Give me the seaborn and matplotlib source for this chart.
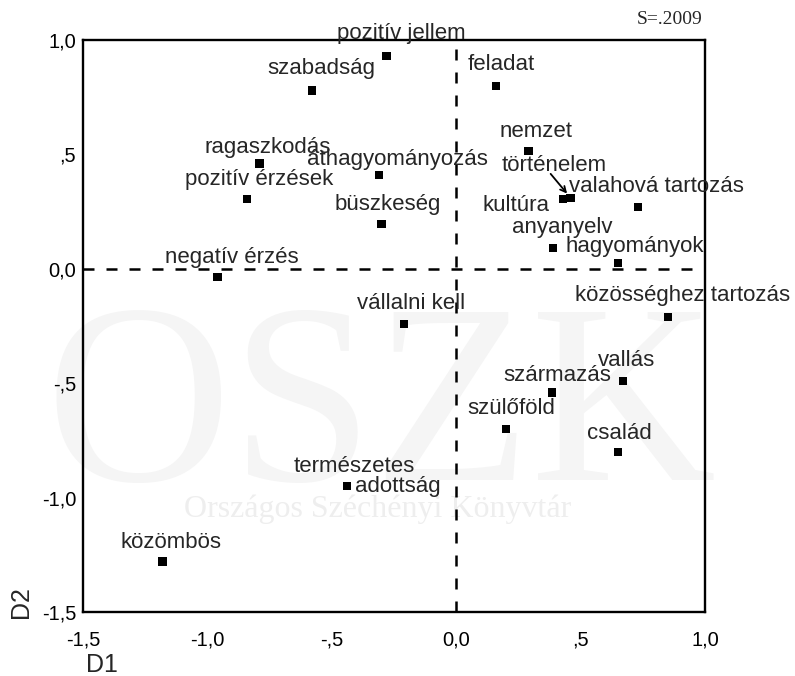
import numpy as np
import pandas as pd
import matplotlib
matplotlib.use("Agg")
import matplotlib.pyplot as plt
import seaborn as sns

# DATI (coordinate D1 / D2)
fogalmak = ["pozitív jellem", "szabadság", "ragaszkodás", "pozitív érzések",
            "áthagyományozás", "büszkeség", "negatív érzés", "feladat", "nemzet",
            "kultúra", "történelem", "valahová tartozás", "anyanyelv", "hagyományok",
            "közösséghez tartozás", "vállalni kell", "vallás", "származás",
            "szülőföld", "család", "természetes adottság", "közömbös"]
d1 = [-0.28, -0.58, -0.79, -0.84, -0.31, -0.30, -0.96, 0.16, 0.29,
      0.43, 0.46, 0.73, 0.39, 0.65, 0.85, -0.21, 0.67, 0.385,
      0.20, 0.65, -0.44, -1.18]
d2 = [0.93, 0.78, 0.46, 0.305, 0.41, 0.196, -0.036, 0.80, 0.515,
      0.305, 0.31, 0.27, 0.09, 0.025, -0.21, -0.24, -0.49, -0.54,
      -0.70, -0.80, -0.95, -1.28]
tick_vals = [-1.5, -1.0, -0.5, 0.0, 0.5, 1.0]
tick_labels = ["-1,5", "-1,0", "-,5", "0,0", ",5", "1,0"]

df = pd.DataFrame({"D1": d1, "D2": d2, "fogalom": fogalmak})

# spostamento delle etichette (pixel) e allineamento
offset = {
    "pozitív jellem": (15, 17, "center"), "szabadság": (9, 16, "center"),
    "ragaszkodás": (8, 11, "center"), "pozitív érzések": (12, 14, "center"),
    "áthagyományozás": (18, 10, "center"), "büszkeség": (6, 14, "center"),
    "negatív érzés": (14, 14, "center"), "feladat": (5, 16, "center"),
    "nemzet": (8, 14, "center"), "kultúra": (-14, -6, "right"),
    "történelem": (-16, 27, "center"), "valahová tartozás": (19, 15, "center"),
    "anyanyelv": (9, 15, "center"), "hagyományok": (17, 11, "center"),
    "közösséghez tartozás": (15, 16, "center"), "vállalni kell": (7, 15, "center"),
    "vallás": (4, 15, "center"), "származás": (5, 11, "center"),
    "szülőföld": (5, 15, "center"), "család": (1, 13, "center"),
    "közömbös": (8, 14, "center"),
}

sns.set_style("white")
plt.rcParams['font.family'] = ['Liberation Sans', 'DejaVu Sans']

fig = plt.figure(figsize=(7.95, 6.76), dpi=100)
ax = fig.add_axes([83/795, 1-612/676, 622/795, 572/676])

# filigrana
ax.text(0.48, 0.231, "OSZK", transform=ax.transAxes, ha="center", va="baseline",
        fontsize=185, family="Liberation Serif", color="#f5f5f5", zorder=0)
ax.text(0.473, 0.18, "Országos Széchényi Könyvtár", transform=ax.transAxes,
        ha="center", va="center", fontsize=23, family="Liberation Serif",
        color="#eeeeee", zorder=0)

ax.axhline(0, color="black", lw=1.8, ls=(0, (4.4, 4.8)), zorder=1)
ax.axvline(0, color="black", lw=1.8, ls=(0, (4.4, 4.8)), zorder=1)

sns.scatterplot(data=df, x="D1", y="D2", marker="s", color="black", s=36,
                edgecolor="none", ax=ax, zorder=3)

for nome, x, y in zip(fogalmak, d1, d2):
    if nome == "természetes adottság":
        ax.annotate("természetes", (x, y), xytext=(8, 14), textcoords="offset pixels",
                    ha="center", va="baseline", fontsize=16, annotation_clip=False)
        ax.annotate("adottság", (x, y), xytext=(8, 0), textcoords="offset pixels",
                    ha="left", va="center", fontsize=16, annotation_clip=False)
        continue
    dx, dy, ha = offset[nome]
    va = "center" if ha == "right" else "baseline"
    ax.annotate(nome, (x, y), xytext=(dx, dy), textcoords="offset pixels",
                ha=ha, va=va, fontsize=16, annotation_clip=False)

# freccia per "történelem"
ax.annotate("", (d1[10], d2[10]), xytext=(-20, 24), textcoords="offset pixels",
            arrowprops=dict(arrowstyle="->", lw=1.3, color="black",
                            shrinkA=0, shrinkB=4))

ax.set_xlim(-1.5, 1.0)
ax.set_ylim(-1.5, 1.0)
ax.set_xticks(tick_vals)
ax.set_xticklabels(tick_labels)
ax.set_yticks(tick_vals)
ax.set_yticklabels(tick_labels)
ax.tick_params(direction="out", length=3, width=2, labelsize=14.5, color="black",
               labelcolor="black")
ax.tick_params(axis="x", pad=10)
ax.tick_params(axis="y", pad=2)

for sp in ax.spines.values():
    sp.set_visible(True)
    sp.set_color("black")
    sp.set_linewidth(1.7)

ax.set_xlabel("D1", loc="left", fontsize=18)
ax.set_ylabel("D2", loc="bottom", fontsize=18)
ax.xaxis.set_label_coords(0.005, -0.072)
ax.yaxis.set_label_coords(-0.08, -0.01)

fig.text(702/795, 1-20/676, "S=.2009", ha="right", va="center", fontsize=14,
         family="Liberation Serif")

fig.savefig("out.png", dpi=100)
